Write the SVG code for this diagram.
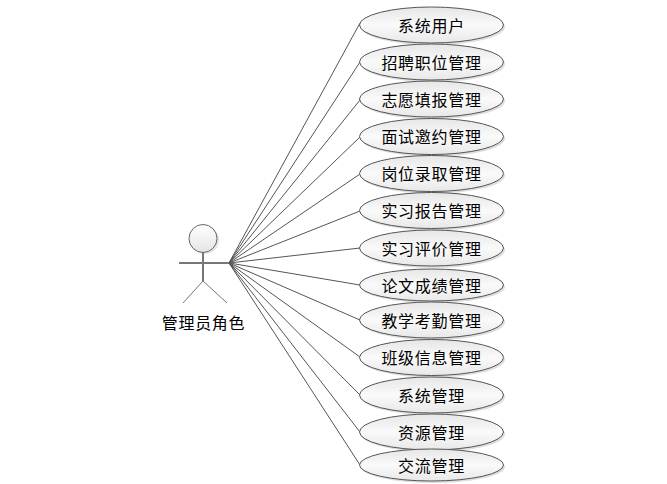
<svg xmlns="http://www.w3.org/2000/svg" width="667" height="484" viewBox="0 0 667 484">
<style>
.n{fill:url(#g);stroke:#555;stroke-width:1}
.s{fill:#000;fill-opacity:.13;stroke:none}
.t{font-family:"Noto Sans CJK SC","Liberation Sans",sans-serif;font-size:16px;fill:#000;text-anchor:middle;letter-spacing:.7px}
.c line{stroke:#555;stroke-width:1}
.a{stroke:#777;fill:none}
</style>
<defs><linearGradient id="g" x1="0" y1="0" x2="0" y2="1"><stop offset="0" stop-color="#e6e6e6"/><stop offset=".5" stop-color="#fafafa"/><stop offset="1" stop-color="#e8e8e8"/></linearGradient>
<linearGradient id="h" x1="0" y1="0" x2="0" y2="1"><stop offset="0" stop-color="#fff"/><stop offset="1" stop-color="#e4e4e4"/></linearGradient></defs>
<rect width="667" height="484" fill="#fff"/>
<g class="c" id="connectors">
<line x1="229" y1="263" x2="360" y2="23"/>
<line x1="229" y1="263" x2="360" y2="62"/>
<line x1="229" y1="263" x2="360" y2="100"/>
<line x1="229" y1="263" x2="360" y2="137"/>
<line x1="229" y1="263" x2="360" y2="174"/>
<line x1="229" y1="263" x2="360" y2="211"/>
<line x1="229" y1="263" x2="360" y2="248"/>
<line x1="229" y1="263" x2="360" y2="285"/>
<line x1="229" y1="263" x2="360" y2="320"/>
<line x1="229" y1="263" x2="360" y2="357"/>
<line x1="229" y1="263" x2="360" y2="395"/>
<line x1="229" y1="263" x2="360" y2="432"/>
<line x1="229" y1="263" x2="360" y2="465"/>
</g>
<g id="actor">
<circle cx="205" cy="240" r="14" fill="#000" fill-opacity=".1"/>
<circle cx="203" cy="238.500" r="14" fill="url(#h)" stroke="#666"/>
<path class="a" stroke-width="2" d="M203 253V281M179 263H229"/>
<path class="a" d="M203 281L183 303M203 281L227 303"/>
<text class="t" x="203.500" y="329">管理员角色</text>
</g>
<g id="n1"><ellipse class="s" cx="433" cy="27" rx="72" ry="18"/><ellipse class="n" cx="431.500" cy="25" rx="72" ry="18"/><text class="t" x="431.500" y="31.500">系统用户</text></g>
<g id="n2"><ellipse class="s" cx="433" cy="64" rx="72" ry="18"/><ellipse class="n" cx="431.500" cy="62" rx="72" ry="18"/><text class="t" x="431.500" y="68.500">招聘职位管理</text></g>
<g id="n3"><ellipse class="s" cx="433" cy="101" rx="72" ry="18"/><ellipse class="n" cx="431.500" cy="99" rx="72" ry="18"/><text class="t" x="431.500" y="105.500">志愿填报管理</text></g>
<g id="n4"><ellipse class="s" cx="433" cy="138.500" rx="72" ry="18"/><ellipse class="n" cx="431.500" cy="136.500" rx="72" ry="18"/><text class="t" x="431.500" y="143">面试邀约管理</text></g>
<g id="n5"><ellipse class="s" cx="433" cy="175.500" rx="72" ry="18"/><ellipse class="n" cx="431.500" cy="173.500" rx="72" ry="18"/><text class="t" x="431.500" y="180">岗位录取管理</text></g>
<g id="n6"><ellipse class="s" cx="433" cy="212.500" rx="72" ry="18"/><ellipse class="n" cx="431.500" cy="210.500" rx="72" ry="18"/><text class="t" x="431.500" y="217">实习报告管理</text></g>
<g id="n7"><ellipse class="s" cx="433" cy="250" rx="72" ry="18"/><ellipse class="n" cx="431.500" cy="248" rx="72" ry="18"/><text class="t" x="431.500" y="254.500">实习评价管理</text></g>
<g id="n8"><ellipse class="s" cx="433" cy="287" rx="72" ry="16"/><ellipse class="n" cx="431.500" cy="285" rx="72" ry="16"/><text class="t" x="431.500" y="292">论文成绩管理</text></g>
<g id="n9"><ellipse class="s" cx="433" cy="322" rx="72" ry="18"/><ellipse class="n" cx="431.500" cy="320" rx="72" ry="18"/><text class="t" x="431.500" y="326.500">教学考勤管理</text></g>
<g id="n10"><ellipse class="s" cx="433" cy="359.500" rx="72" ry="18"/><ellipse class="n" cx="431.500" cy="357.500" rx="72" ry="18"/><text class="t" x="431.500" y="364">班级信息管理</text></g>
<g id="n11"><ellipse class="s" cx="433" cy="397" rx="72" ry="18"/><ellipse class="n" cx="431.500" cy="395" rx="72" ry="18"/><text class="t" x="431.500" y="401.500">系统管理</text></g>
<g id="n12"><ellipse class="s" cx="433" cy="434" rx="72" ry="18"/><ellipse class="n" cx="431.500" cy="432" rx="72" ry="18"/><text class="t" x="431.500" y="438.500">资源管理</text></g>
<g id="n13"><ellipse class="s" cx="433" cy="467" rx="72" ry="16"/><ellipse class="n" cx="431.500" cy="465" rx="72" ry="16"/><text class="t" x="431.500" y="471.500">交流管理</text></g>
</svg>
